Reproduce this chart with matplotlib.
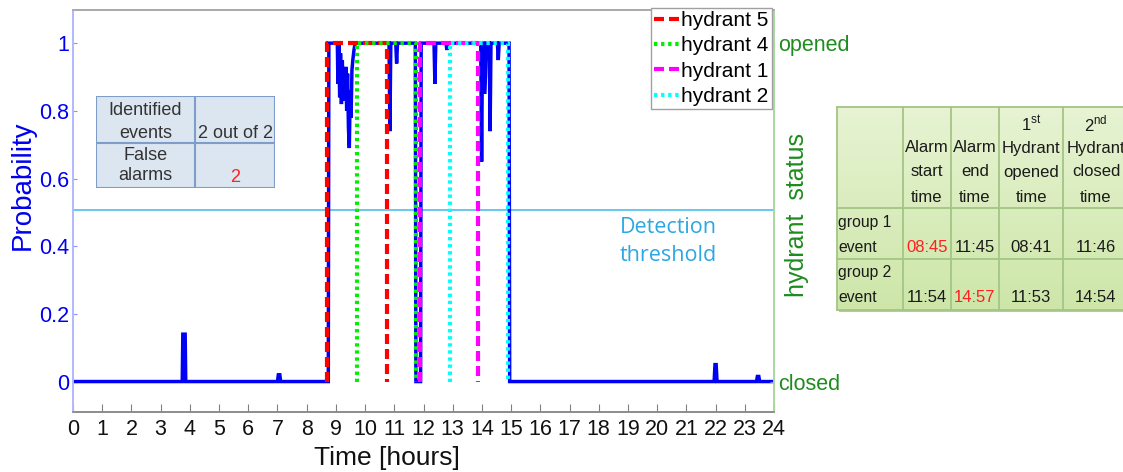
import numpy as np
import matplotlib
matplotlib.use("Agg")
import matplotlib.pyplot as plt
from matplotlib.colors import LinearSegmentedColormap
from matplotlib.patches import Rectangle

plt.rcParams['font.family'] = ['Liberation Sans', 'DejaVu Sans']

# ---- alarm probability over the day ----
prob_t = [0.00, 3.74, 3.76, 3.84, 3.86, 7.00, 7.03, 7.08, 7.11,
          8.74, 8.76, 9.05, 9.07, 9.10, 9.13, 9.16, 9.19, 9.22, 9.25, 9.28, 9.31,
          9.34, 9.37, 9.40, 9.43, 9.46, 9.49, 9.52, 9.55, 9.58, 9.62, 9.66,
          10.82, 10.85, 10.88, 11.05, 11.08, 11.11, 11.72, 11.74, 11.90, 11.92,
          12.36, 12.39, 12.42, 12.77, 12.80, 12.83, 13.96, 13.99, 14.02, 14.06,
          14.09, 14.12, 14.15, 14.25, 14.28, 14.31, 14.53, 14.56, 14.59, 14.93, 14.95,
          21.95, 21.98, 22.02, 22.05, 23.40, 23.43, 23.48, 23.51, 24.00]
prob_v = [0, 0, 0.14, 0.14, 0, 0, 0.02, 0.02, 0,
          0, 1, 1, 0.88, 1, 0.84, 0.97, 0.82, 0.95, 0.86, 0.90, 0.83,
          0.93, 0.80, 0.91, 0.75, 0.69, 0.86, 0.78, 0.92, 0.95, 0.98, 1,
          1, 0.74, 1, 1, 0.94, 1, 1, 0, 0, 1,
          1, 0.88, 1, 1, 0.98, 1, 1, 0.65, 1, 1,
          0.85, 0.90, 1, 1, 0.74, 1, 1, 0.95, 1, 1, 0,
          0, 0.05, 0.05, 0, 0, 0.015, 0.015, 0, 0]
threshold = 0.507

# ---- hydrant operations (hours) ----
hydrant_labels = ['hydrant 5', 'hydrant 4', 'hydrant 1', 'hydrant 2']
hydrant_open = [8.69, 9.73, 11.88, 12.91]
hydrant_close = [10.76, 11.76, 13.88, 14.90]
hydrant_colors = ['#FF0000', '#00EE00', '#FF00FF', '#00FFFF']
hydrant_dashes = [(0, (2.4, 1.2)), (0, (0.8, 0.9)), (0, (2.4, 1.2)), (0, (0.8, 0.9))]

x_ticks = list(range(25))
y_ticks = [0, 0.2, 0.4, 0.6, 0.8, 1]
y_tick_labels = ['0', '0.2', '0.4', '0.6', '0.8', '1']
status_ticks = [0, 1]
status_labels = ['closed', 'opened']

# ---- summary tables ----
summary_rows = [('Identified\nevents', '2 out of 2'), ('False\nalarms', '2')]
timing_header = ['Alarm\nstart\ntime', 'Alarm\nend\ntime',
                 '1$^{\\mathregular{st}}$\nHydrant\nopened\ntime',
                 '2$^{\\mathregular{nd}}$\nHydrant\nclosed\ntime']
timing_rows = [('group 1\nevent', ['08:45', '11:45', '08:41', '11:46']),
               ('group 2\nevent', ['11:54', '14:57', '11:53', '14:54'])]
timing_red = [(0, 0), (1, 1)]

W, H = 1123, 472
fig = plt.figure(figsize=(W / 100, H / 100), dpi=100)
fig.patch.set_facecolor('white')


def px_axes(x0, y0, x1, y1, **kw):
    return fig.add_axes([x0 / W, 1 - y1 / H, (x1 - x0) / W, (y1 - y0) / H], **kw)


ax = px_axes(73, 10, 774, 412)
ax.set_xlim(0, 24)
ax.set_ylim(-0.09, 1.098)
ax.axhline(threshold, color='#5CC3EE', lw=1.3, zorder=1)
ax.plot(prob_t, prob_v, color='#0000F5', lw=2.5, zorder=2, solid_joinstyle='miter')

ax.set_xticks(x_ticks)
ax.set_xticklabels([str(t) for t in x_ticks])
ax.set_yticks(y_ticks)
ax.set_yticklabels(y_tick_labels)
ax.tick_params(axis='x', direction='in', length=6, color='#808080', labelsize=15.5,
               pad=5, labelcolor='#111111', top=False)
ax.tick_params(axis='y', direction='in', length=3, color='#8C8CFF', labelsize=15.5,
               pad=3, labelcolor='#0000F0')
ax.set_xlabel('Time [hours]', fontsize=19, color='#111111', labelpad=2)
ax.xaxis.set_label_coords(0.448, -0.085)
ax.set_ylabel('Probability', fontsize=20, color='#0000F0', labelpad=6)
ax.yaxis.set_label_coords(-0.053, 0.565)

ax.text(20.37, 0.413, 'Detection\nthreshold', ha='center', va='center',
        fontsize=15.5, color='#2BA7E3', family=['Open Sans', 'DejaVu Sans'],
        linespacing=1.45)

ax2 = ax.twinx()
ax2.set_ylim(-0.09, 1.098)
handles = []
for lab, o, c, col, ds in zip(hydrant_labels, hydrant_open, hydrant_close,
                              hydrant_colors, hydrant_dashes):
    h, = ax2.plot([o, o, c, c], [0, 1, 1, 0], color=col, lw=3, linestyle=ds,
                  label=lab)
    handles.append(h)
ax2.set_yticks(status_ticks)
ax2.set_yticklabels(status_labels)
ax2.tick_params(axis='y', direction='in', length=3, color='#8C8CFF', labelsize=15.5,
                pad=3, labelcolor='#1E8C1E')
ax2.set_ylabel('hydrant  status', fontsize=18, color='#1E8C1E', labelpad=6)
ax2.yaxis.set_label_coords(1.016, 0.49)

for a in (ax, ax2):
    a.spines['left'].set_color('#B0B8FF')
    a.spines['right'].set_color('#A8D8A0')
    a.spines['top'].set_color('#A8A8A8')
    a.spines['bottom'].set_color('#8C8C8C')
    for s in a.spines.values():
        s.set_linewidth(1.2)

leg = ax2.legend(handles=handles, loc='upper right', bbox_to_anchor=(0.997, 1.005),
                 fontsize=15, frameon=True, fancybox=False, framealpha=1,
                 edgecolor='#A0A0A0', handlelength=1.2, handletextpad=0.12,
                 borderpad=0.15, labelspacing=0.3, borderaxespad=0)
leg.get_frame().set_linewidth(1.0)

# ---- summary table inside the plot ----
tb = px_axes(96, 96, 275, 188, zorder=5)
tb.set_xlim(96, 275)
tb.set_ylim(188, 96)
tb.axis('off')
tb.add_patch(Rectangle((96, 96), 179, 92, facecolor='#DCE6F1', edgecolor='#7F9DC9',
                       lw=1.5))
tb.plot([195, 195], [96, 188], color='#7F9DC9', lw=1.5)
tb.plot([96, 275], [142.5, 142.5], color='#7F9DC9', lw=1.5)
row_y = [(110.5, 134), (155, 176)]
for (lab, val), (y1, y2) in zip(summary_rows, row_y):
    l1, l2 = lab.split('\n')
    tb.text(145.5, y1, l1, ha='center', va='center', fontsize=13, color='#333333')
    tb.text(145.5, y2, l2, ha='center', va='center', fontsize=13, color='#333333')
tb.text(235.5, 134, summary_rows[0][1], ha='center', va='center', fontsize=13,
        color='#333333')
tb.text(235.5, 178, summary_rows[1][1], ha='center', va='center', fontsize=13,
        color='#FF2020')

# ---- event timing table ----
X0, X1, Y0, Y1 = 837, 1131, 107, 310
tt = px_axes(X0 - 4, Y0 - 4, X1 + 4, Y1 + 4, zorder=5)
tt.set_xlim(X0 - 4, X1 + 4)
tt.set_ylim(Y1 + 4, Y0 - 4)
tt.axis('off')
tt.add_patch(Rectangle((X0 + 2, Y0 + 2), X1 - X0, Y1 - Y0, facecolor='#BFBFBF',
                       edgecolor='none', zorder=0))
grad = np.linspace(0, 1, 64).reshape(-1, 1)
cmap = LinearSegmentedColormap.from_list('g', ['#E7F3D3', '#CDE6A8'])
tt.imshow(grad, extent=(X0, X1, Y1, Y0), cmap=cmap, aspect='auto', zorder=1)
col_x = [X0, 903, 951, 999, 1063, X1]
row_edges = [Y0, 208, 259, Y1]
line_col = '#A3C585'
for xv in col_x:
    tt.plot([xv, xv], [Y0, Y1], color=line_col, lw=1.3, zorder=2)
for yv in row_edges:
    tt.plot([X0, X1], [yv, yv], color=line_col, lw=1.3, zorder=2)
col_cx = [(col_x[i] + col_x[i + 1]) / 2 for i in range(1, 5)]
col_cx[-1] = 1096
header_y = [124, 148, 172, 197]
for cx, txt in zip(col_cx, timing_header):
    lines = txt.split('\n')
    ys = header_y[4 - len(lines):]
    for yv, ln in zip(ys, lines):
        tt.text(cx, yv, ln, ha='center', va='center', fontsize=12,
                color='#1A1A1A', zorder=3)
for r, ((lab, vals), (ya, yb)) in enumerate(zip(timing_rows,
                                                [(223, 247), (273, 298)])):
    l1, l2 = lab.split('\n')
    tt.text(X0 + 1, ya, l1, ha='left', va='center', fontsize=11.3, color='#1A1A1A',
            zorder=3)
    tt.text(X0 + 1, yb, l2, ha='left', va='center', fontsize=11.3, color='#1A1A1A',
            zorder=3)
    for c, (cx, v) in enumerate(zip(col_cx, vals)):
        colr = '#FF2020' if (r, c) in timing_red else '#1A1A1A'
        tt.text(cx, yb, v, ha='center', va='center', fontsize=12, color=colr,
                zorder=3)

fig.savefig('out.png', dpi=100)
